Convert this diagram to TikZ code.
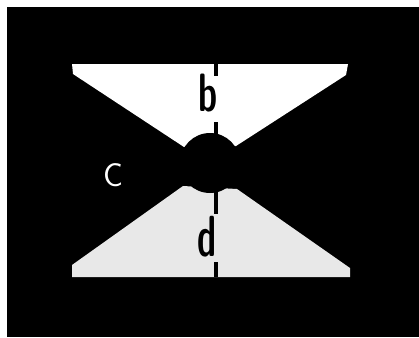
\documentclass[tikz,border=0pt]{standalone}
\usepackage{graphicx}
\usepackage{tikz}
\usetikzlibrary{positioning, calc}
\tikzset{
    frame/.style={fill=black},
    lightwedge/.style={fill=white},
    dotwedge/.style={fill=black!9},
    hub/.style={fill=black},
    stemline/.style={line width=4pt, draw=black},
    lettr/.style={font=\sffamily\bfseries\fontsize{40}{40}\selectfont, text=black, inner sep=0pt},
    sidelbl/.style={font=\sffamily\fontsize{33}{33}\selectfont, text=white, inner sep=0pt},
}
\begin{document}
\begin{tikzpicture}[x=1pt,y=-1pt]
        \useasboundingbox (0,0) rectangle (419,337);
        \fill[frame] (7,7) rectangle (419,337);
        % Kegel oben und unten
        \fill[lightwedge] (72,64) -- (348,64) -- (346,75) -- (236,146) -- (184,147) -- (73,74) -- cycle;
        \fill[dotwedge] (72,277) -- (350,277) -- (350,268) -- (237,189) -- (183,186) -- (72,265) -- cycle;
        \fill[hub] (210,163) circle (30);
        % Achse
        \coordinate (ax1) at (216,63);
        \coordinate (ax2) at (216,76);
        \coordinate (ax3) at (216,122);
        \coordinate (ax4) at (216,135);
        \coordinate (ax5) at (216,190);
        \coordinate (ax6) at (216,214);
        \coordinate (ax7) at (216,262);
        \coordinate (ax8) at (216,277);
        \draw[stemline] (ax1) -- (ax2);
        \draw[stemline] (ax3) -- (ax4);
        \draw[stemline] (ax5) -- (ax6);
        \draw[stemline] (ax7) -- (ax8);
        % Beschriftung
        \node[lettr] (b) at (208,93) {\scalebox{0.85}[1.35]{b}};
        \node[lettr] (d) at (207,237) {\scalebox{0.85}[1.45]{d}};
        \node[sidelbl] (c) at (113,175) {C};
    \end{tikzpicture}
\end{document}
